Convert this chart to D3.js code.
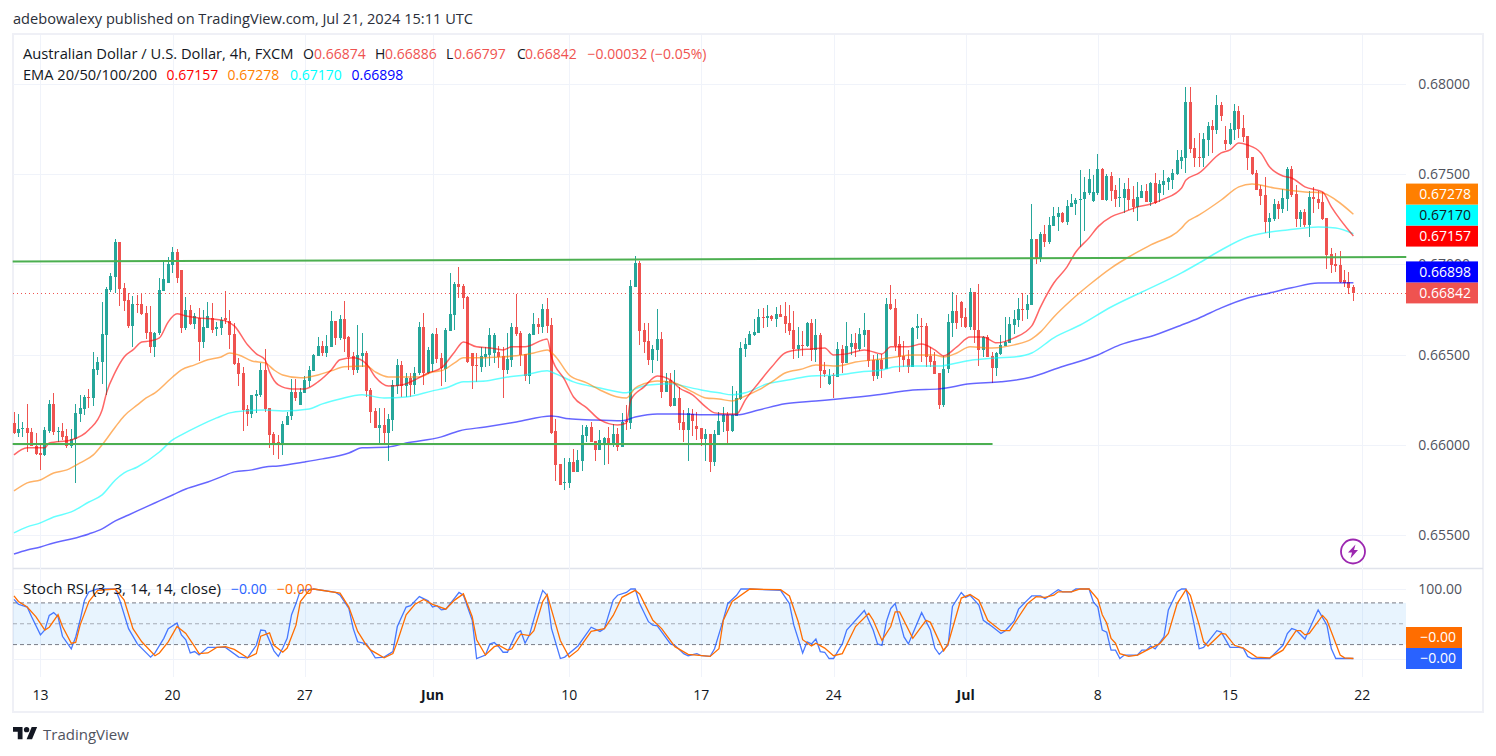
<!DOCTYPE html>
<html>
<head>
<meta charset="utf-8">
<script src="https://cdn.jsdelivr.net/npm/d3@7"></script>
<style>
  html, body { margin: 0; padding: 0; background: #fff; overflow: hidden; }
  text { font-family: "Open Sans", sans-serif; }
</style>
</head>
<body>
<svg id="chart" width="1496" height="756"></svg>
<script>
// all prices are in 1e-5 units (66842 = 0.66842), one entry per 4h bar
var opens = [66121,66066,66088,66094,66072,65994,65955,65944,66077,66227,
66072,66077,66049,65994,66033,66171,66199,66266,66260,66415,
66459,66609,66859,66930,67125,66870,66803,66659,66781,66781,
66731,66626,66543,66620,66853,66897,66997,67069,66969,66648,
66748,66670,66703,66570,66648,66703,66642,66648,66703,66687,
66615,66454,66398,66199,66171,66271,66277,66415,66205,66060,
66016,66005,66110,66160,66293,66221,66288,66354,66410,66493,
66548,66509,66543,66687,66592,66698,66598,66493,66415,66493,
66509,66304,66188,66094,66110,66066,66138,66326,66443,66326,
66371,66332,66398,66653,66398,66448,66615,66482,66421,66631,
66720,66892,66881,66820,66509,66443,66432,66487,66498,66509,
66515,66493,66415,66471,66653,66620,66504,66382,66609,66670,
66653,66753,66665,66077,65894,65789,65789,65905,65850,65911,
66049,66099,66022,65972,65999,66038,66005,66060,65988,66133,
66121,66875,67008,66637,66576,66471,66526,66587,66293,66360,
66216,66260,66127,66083,66171,66105,66094,66033,66060,65905,
66055,66127,66166,66077,66160,66254,66532,66554,66609,66620,
66709,66703,66714,66698,66726,66714,66676,66637,66531,66554,
66548,66676,66526,66609,66415,66338,66387,66376,66531,66454,
66543,66565,66531,66609,66637,66471,66382,66471,66421,66781,
66759,66559,66493,66476,66432,66648,66659,66659,66493,66465,
66398,66221,66421,66676,66742,66792,66709,66653,66847,66637,
66526,66598,66493,66426,66504,66548,66565,66665,66692,66753,
66748,66775,67141,67030,67169,67125,67213,67263,67285,67235,
67319,67335,67360,67363,67396,67352,67396,67529,67357,67490,
67413,67368,67368,67418,67363,67319,67368,67407,67346,67452,
67396,67441,67457,67468,67501,67574,67590,67901,67646,67596,
67590,67690,67768,67745,67884,67690,67668,67745,67851,67757,
67712,67596,67507,67418,67385,67235,67252,67335,67308,67363,
67529,67391,67252,67291,67219,67374,67363,67346,67258,67058,
67003,66997,66914,66903,66874];
var highs = [66182,66171,66127,66227,66094,66066,66011,66100,66249,66288,
66100,66121,66088,66088,66227,66277,66277,66310,66515,66487,
66792,66875,66953,67141,67125,66897,66842,66825,66831,66836,
66770,66770,66626,66925,67014,67041,67097,67086,66969,66820,
66775,66731,66759,66748,66792,66786,66681,66709,66853,66748,
66676,66482,66432,66221,66277,66304,66454,66531,66205,66072,
66055,66133,66182,66365,66365,66315,66382,66437,66504,66598,
66576,66609,66742,66687,66720,66798,66604,66515,66664,66620,
66520,66315,66205,66205,66205,66171,66360,66476,66465,66398,
66398,66432,66681,66731,66543,66620,66648,66509,66648,66953,
66903,66986,66892,66825,66509,66509,66543,66543,66648,66620,
66548,66543,66620,66676,66836,66631,66504,66620,66731,66703,
66781,66814,66703,66144,65894,65927,65927,65977,65972,66110,
66110,66127,66022,66083,66044,66099,66116,66094,66177,66221,
66914,67047,67019,66676,66676,66554,66753,66626,66398,66398,
66415,66321,66193,66205,66199,66182,66094,66088,66060,66083,
66182,66210,66182,66326,66299,66570,66593,66631,66698,66753,
66759,66775,66720,66764,66775,66792,66775,66742,66653,66631,
66681,66698,66698,66620,66460,66421,66398,66570,66554,66681,
66615,66620,66648,66731,66637,66498,66504,66504,66814,66886,
66809,66604,66576,66526,66653,66726,66703,66676,66543,66515,
66398,66493,66726,66847,66831,66798,66759,66869,66847,66892,
66604,66609,66515,66515,66609,66709,66709,66748,66814,66842,
66831,67335,67141,67180,67219,67263,67319,67319,67291,67357,
67391,67368,67524,67485,67529,67496,67612,67535,67501,67513,
67441,67479,67452,67479,67435,67457,67441,67446,67457,67507,
67468,67524,67485,67529,67635,67635,67984,67984,67701,67729,
67729,67790,67801,67939,67901,67768,67784,67889,67878,67829,
67712,67596,67524,67441,67485,67285,67363,67352,67418,67540,
67546,67441,67302,67308,67407,67430,67407,67402,67258,67091,
67064,67075,66969,66958,66886];
var lows = [66060,66044,66044,65960,65994,65944,65861,65939,66066,66055,
66016,66027,65983,65983,65789,66127,66166,66205,66216,66387,
66337,66277,66847,66842,66770,66742,66648,66543,66731,66720,
66587,66509,66487,66609,66853,66897,66953,66897,66620,66637,
66665,66642,66465,66537,66648,66620,66604,66609,66670,66531,
66443,66326,66077,66105,66149,66177,66266,66182,65983,65944,
65922,65944,66110,66138,66243,66221,66288,66321,66410,66493,
66493,66487,66543,66554,66581,66515,66415,66387,66398,66432,
66266,66121,66094,66005,66005,65911,66077,66282,66266,66266,
66266,66282,66387,66332,66393,66404,66454,66326,66349,66631,
66637,66814,66753,66454,66310,66349,66404,66432,66437,66454,
66426,66260,66393,66432,66604,66437,66354,66338,66609,66615,
66620,66620,66060,65800,65778,65750,65761,65850,65850,65855,
66016,66016,65911,65972,65888,65894,65988,65966,65988,66083,
66088,66875,66554,66509,66443,66398,66465,66260,66293,66210,
66216,66083,66016,65911,66049,66027,65994,65911,65850,65883,
66055,66072,66005,66072,66160,66249,66487,66554,66604,66620,
66648,66653,66687,66653,66709,66620,66609,66476,66482,66493,
66543,66465,66460,66315,66376,66332,66260,66376,66398,66454,
66498,66487,66520,66543,66432,66354,66365,66371,66421,66748,
66520,66404,66432,66398,66432,66587,66460,66432,66432,66393,
66199,66210,66398,66598,66642,66653,66648,66637,66565,66437,
66487,66487,66343,66382,66498,66548,66565,66615,66653,66687,
66698,66775,67003,67014,67097,67114,67213,67186,67230,67219,
67319,67274,67097,67186,67385,67346,67385,67357,67352,67352,
67319,67319,67285,67302,67291,67241,67368,67346,67324,67335,
67346,67385,67413,67418,67495,67529,67507,67618,67540,67540,
67540,67601,67618,67723,67795,67635,67662,67690,67701,67679,
67524,67496,67413,67330,67175,67147,67241,67252,67285,67296,
67374,67208,67208,67208,67153,67285,67308,67247,66975,66953,
66958,66897,66875,66836,66797];
var closes = [66066,66088,66094,66066,65994,65950,65944,66083,66227,66072,
66077,66044,65994,66033,66177,66205,66266,66260,66421,66459,
66615,66864,66936,67125,66864,66798,66659,66781,66775,66726,
66620,66543,66620,66859,66919,67003,67069,66925,66648,66748,
66670,66714,66570,66653,66714,66637,66653,66692,66692,66609,
66448,66393,66193,66171,66277,66282,66415,66199,66055,66005,
66005,66116,66160,66293,66260,66293,66360,66415,66498,66548,
66509,66548,66687,66592,66698,66587,66487,66415,66498,66509,
66299,66182,66094,66110,66066,66143,66332,66443,66326,66371,
66332,66398,66653,66398,66526,66615,66476,66426,66637,66726,
66892,66875,66814,66459,66437,66437,66493,66504,66609,66609,
66487,66415,66476,66653,66615,66498,66382,66615,66670,66653,
66753,66659,66066,65888,65778,65794,65905,65850,65916,66055,
66099,66016,65972,66027,66038,66005,66060,65988,66127,66127,
66881,67008,66631,66570,66471,66532,66587,66293,66354,66216,
66260,66121,66083,66177,66133,66088,66033,66060,65905,66060,
66133,66166,66077,66166,66260,66537,66559,66615,66626,66709,
66703,66714,66698,66726,66709,66670,66631,66531,66554,66548,
66676,66526,66609,66410,66393,66382,66382,66531,66454,66548,
66565,66531,66615,66637,66465,66382,66471,66421,66781,66753,
66548,66487,66471,66432,66648,66659,66653,66487,66460,66393,
66221,66421,66681,66742,66676,66703,66653,66847,66637,66526,
66598,66487,66426,66509,66554,66570,66670,66698,66753,66748,
66781,67141,67030,67169,67125,67219,67269,67285,67235,67324,
67341,67357,67363,67402,67474,67402,67529,67357,67490,67407,
67363,67374,67418,67357,67319,67374,67407,67346,67452,67341,
67446,67463,67479,67507,67579,67596,67901,67640,67590,67590,
67696,67768,67745,67884,67823,67668,67751,67851,67751,67707,
67590,67501,67413,67380,67235,67258,67335,67308,67368,67529,
67385,67252,67291,67219,67374,67363,67341,67252,67052,66997,
66991,66903,66897,66870,66842];

// moving averages at the listed bars
var ema20Bars = [0,3,7,8,13,17,20,21,23,25,27,29,31,33,35,37,39,42,45,48,50,53,55,57,58,60,63,66,69,72,74,77,80,82,85,88,91,94,97,100,102,105,108,111,113,116,120,121,122,125,127,130,133,137,139,140,143,146,149,151,154,157,159,162,164,166,169,172,175,178,181,184,186,189,193,197,199,203,206,209,211,214,217,220,223,227,231,233,236,239,241,244,246,249,252,255,258,261,265,266,269,274,276,278,280,283,285,288,290,293,297,299,304];
var ema20Vals = [65944,65983,65983,66010,66027,66083,66193,66288,66404,66487,66526,66570,66576,66593,66681,66726,66714,66703,66698,66687,66659,66554,66504,66471,66404,66332,66310,66310,66349,66415,66471,66482,66448,66376,66326,66332,66360,66398,66426,66515,66570,66543,66537,66526,66543,66543,66581,66587,66487,66360,66265,66205,66138,66110,66121,66249,66321,66382,66360,66315,66277,66210,66177,66171,66171,66249,66343,66432,66509,66526,66531,66537,66498,66504,66526,66504,66543,66543,66559,66526,66493,66543,66598,66598,66565,66593,66659,66765,66897,66986,67069,67147,67208,67263,67291,67319,67335,67363,67424,67468,67507,67618,67635,67673,67662,67618,67540,67490,67479,67430,67402,67319,67157];
var ema50Bars = [0,3,6,9,12,15,18,20,23,25,28,30,32,36,38,41,44,47,49,51,54,57,59,61,65,69,72,75,80,82,85,89,92,95,97,100,102,106,110,114,118,121,123,126,130,133,137,139,141,143,146,150,151,154,157,160,163,165,169,172,175,179,182,187,191,197,200,204,209,211,214,217,222,227,231,233,236,240,244,249,253,258,265,266,269,274,278,281,286,293,297,300,304];
var ema50Vals = [65744,65789,65805,65844,65861,65900,65944,66000,66099,66160,66221,66260,66288,66376,66415,66443,66471,66487,66509,66498,66465,66454,66415,66387,66371,66387,66410,66432,66437,66404,66376,66376,66376,66404,66410,66454,66482,66482,66487,66493,66509,66526,66487,66387,66343,66304,66265,66260,66315,66338,66354,66343,66332,66293,66260,66254,66243,66260,66304,66349,66398,66421,66443,66437,66459,66476,66487,66498,66498,66487,66509,66543,66537,66554,66587,66626,66709,66803,66886,66980,67041,67108,67202,67230,67274,67357,67430,67446,67424,67402,67396,67357,67278];
var ema100Bars = [0,3,6,9,13,17,20,23,25,28,33,36,38,42,46,49,52,57,61,67,70,74,79,84,89,95,98,102,107,112,116,121,123,127,133,139,141,144,150,151,156,160,163,166,171,176,181,187,192,197,200,204,210,214,218,223,227,231,236,242,249,256,265,269,274,280,284,289,296,300,304];
var ema100Vals = [65512,65545,65567,65600,65628,65683,65722,65805,65844,65877,65960,66027,66055,66105,66149,66177,66188,66193,66188,66199,66227,66254,66277,66260,66265,66299,66315,66349,66354,66376,66387,66410,66393,66349,66315,66288,66310,66332,66338,66332,66304,66288,66277,66288,66338,66360,66382,66387,66404,66415,66432,66437,66437,66454,66471,66482,66487,66509,66593,66664,66764,66847,66953,67008,67080,67152,67175,67191,67208,67202,67170];
var ema200Bars = [0,3,6,9,13,17,20,23,26,30,33,36,39,44,47,50,54,57,60,66,70,76,79,85,89,97,101,107,114,122,126,131,138,141,146,151,158,164,169,175,182,187,196,204,210,217,224,231,237,246,251,259,265,269,274,280,285,290,296,304];
var ema200Vals = [65395,65417,65434,65456,65478,65506,65534,65578,65611,65656,65689,65722,65755,65794,65822,65850,65861,65877,65883,65905,65922,65955,65983,65988,66010,66044,66077,66099,66127,66160,66144,66138,66133,66154,66171,66171,66166,66166,66193,66227,66243,66254,66277,66304,66310,66338,66349,66376,66426,66498,66554,66609,66664,66703,66759,66814,66842,66870,66897,66898];

// stoch rsi
var stochKBars = [0,1,3,4,6,7,8,9,10,11,13,14,15,16,17,19,23,24,26,28,31,32,34,35,37,38,39,40,41,42,44,48,51,53,55,56,57,59,60,61,62,63,64,65,68,73,74,76,77,78,80,82,84,86,87,89,90,92,94,95,96,97,98,100,101,102,104,105,107,108,109,110,111,112,114,115,116,117,119,120,121,122,124,125,128,131,133,134,136,137,139,140,141,142,144,145,146,149,150,152,153,155,156,158,159,161,162,164,165,167,174,176,177,179,180,181,182,183,184,185,186,188,189,193,195,196,197,198,199,200,202,203,206,208,209,210,212,213,215,216,217,219,220,222,224,225,227,228,230,231,233,234,237,238,240,241,244,245,246,247,248,249,250,251,252,255,256,257,258,259,261,262,264,265,266,267,269,270,273,274,276,278,279,280,281,285,288,289,290,291,293,296,298,299,300,304];
var stochKVals = [85,78,74,60,34,41,62,66,60,32,14,31,55,84,96,100,100,84,43,21,2,8,29,43,51,34,27,8,10,5,16,16,2,1,19,41,40,11,3,15,29,63,79,98,100,95,91,72,43,24,21,1,2,10,46,74,76,89,83,74,76,70,71,87,95,91,55,0,5,21,23,17,9,9,36,40,22,34,79,98,91,43,0,2,18,45,39,43,84,91,95,100,100,79,53,48,47,21,19,7,4,7,4,3,14,56,79,91,100,100,98,79,48,8,24,21,28,10,9,0,0,21,41,69,41,21,19,53,72,79,31,21,66,41,15,6,19,75,95,88,91,77,55,46,36,40,54,71,84,90,90,86,99,96,96,100,100,81,74,41,38,12,12,0,5,5,12,12,18,14,31,70,96,100,100,75,14,16,40,38,16,16,15,3,0,0,19,36,43,41,28,70,48,14,0,0];
var stochDBars = [0,1,3,5,7,8,10,11,13,14,15,17,19,23,25,27,29,32,33,35,37,39,41,42,44,46,48,50,53,55,56,58,59,61,62,64,65,67,68,74,76,78,80,81,84,86,87,89,91,93,95,98,100,102,104,105,107,109,110,112,113,115,117,118,120,121,123,124,126,128,131,134,136,138,141,142,145,147,150,153,158,160,161,163,167,174,176,178,179,181,182,184,186,188,191,194,195,197,199,200,201,204,207,208,211,212,215,217,219,221,224,226,227,230,232,234,236,237,240,242,244,246,247,248,249,250,251,253,255,258,260,262,264,266,267,269,270,271,274,275,277,279,282,285,288,291,292,293,294,297,298,301,302,304];
var stochDVals = [90,82,74,60,41,45,63,46,22,23,48,82,98,100,84,43,24,4,8,24,46,36,17,7,8,16,17,13,1,7,32,37,19,9,15,48,82,98,100,94,74,39,19,12,1,7,24,63,78,85,78,71,84,93,60,27,5,17,19,12,14,35,33,40,82,92,48,26,2,12,39,43,62,88,98,93,55,43,17,6,3,14,55,82,100,99,90,53,27,18,22,15,4,7,46,65,55,26,46,67,67,29,55,52,11,21,87,92,84,55,40,40,50,79,89,88,91,96,96,100,100,85,63,51,29,22,7,3,5,15,21,36,79,99,91,48,24,18,36,35,19,15,2,1,12,40,40,34,36,62,55,5,1,0];

// drawn trend lines: [bar, price]
var upperTrendBars = [-0.3, 316];
var upperTrendVals = [67016, 67041];
var lowerTrendBars = [-0.3, 222.1];
var lowerTrendVals = [66005, 66005];

var priceTicks = [0.655, 0.66, 0.665, 0.67, 0.675, 0.68];
var rsiBands = [100, 80, 50, 20, 0];
var timeTickBars = [6, 36, 66, 95, 126, 156, 186, 216, 246, 276, 306];
var timeTickLabels = ["13", "20", "27", "Jun", "10", "17", "24", "Jul", "8", "15", "22"];

var svg = d3.select("#chart");

var x = d3.scaleLinear().domain([0, 304]).range([14, 1353.4]);
var y = d3.scaleLinear().domain([0.655, 0.68]).range([535, 84]);
var yRsi = d3.scaleLinear().domain([0, 100]).range([658.5, 589]);

var paneLeft = 13, paneRight = 1406, upColor = "#26a69a", downColor = "#ef5350";

function label(px, py, str, fill, anchor, size, weight, fitWidth) {
  var t = svg.append("text")
    .attr("x", px).attr("y", py)
    .attr("dy", "0.35em")
    .attr("fill", fill)
    .attr("text-anchor", anchor || "start")
    .attr("font-size", size || 13)
    .attr("font-weight", weight || 400)
    .text(str);
  if (fitWidth) t.attr("textLength", fitWidth).attr("lengthAdjust", "spacingAndGlyphs");
  return t;
}

// frame
svg.append("rect").attr("x", 13).attr("y", 34).attr("width", 1470).attr("height", 678)
  .attr("fill", "#fff").attr("stroke", "#eff0f6").attr("stroke-width", 2);
svg.append("line").attr("x1", 13).attr("x2", 1483).attr("y1", 568.5).attr("y2", 568.5)
  .attr("stroke", "#e0e3eb").attr("stroke-width", 1.5);

// grid
var grid = svg.append("g").attr("stroke", "#f0f3fa").attr("shape-rendering", "crispEdges");
grid.selectAll(".v").data(timeTickBars).join("line")
  .attr("x1", function (d) { return Math.round(x(d)) + 0.5; })
  .attr("x2", function (d) { return Math.round(x(d)) + 0.5; })
  .attr("y1", 35).attr("y2", 677);
grid.selectAll(".h").data(priceTicks).join("line")
  .attr("x1", paneLeft).attr("x2", paneRight)
  .attr("y1", function (d) { return Math.round(y(d)) + 0.5; })
  .attr("y2", function (d) { return Math.round(y(d)) + 0.5; });
grid.selectAll(".r").data([100, 0]).join("line")
  .attr("x1", paneLeft).attr("x2", paneRight)
  .attr("y1", function (d) { return Math.round(yRsi(d)) + 0.5; })
  .attr("y2", function (d) { return Math.round(yRsi(d)) + 0.5; });

// last price line
svg.append("line")
  .attr("x1", paneLeft).attr("x2", paneRight)
  .attr("y1", Math.round(y(closes[304] / 1e5)) + 0.5)
  .attr("y2", Math.round(y(closes[304] / 1e5)) + 0.5)
  .attr("stroke", downColor).attr("stroke-width", 1).attr("stroke-dasharray", "1 3");

// candles
var candles = svg.append("g").attr("shape-rendering", "crispEdges");
var bars = d3.range(opens.length);
candles.selectAll(".wick").data(bars).join("line")
  .attr("x1", function (i) { return Math.floor(x(i)) + 0.5; })
  .attr("x2", function (i) { return Math.floor(x(i)) + 0.5; })
  .attr("y1", function (i) { return y(highs[i] / 1e5); })
  .attr("y2", function (i) { return y(lows[i] / 1e5); })
  .attr("stroke", function (i) { return closes[i] >= opens[i] ? upColor : downColor; });
candles.selectAll(".body").data(bars).join("rect")
  .attr("x", function (i) { return Math.floor(x(i)) - 1; })
  .attr("width", 3)
  .attr("y", function (i) { return y(Math.max(opens[i], closes[i]) / 1e5); })
  .attr("height", function (i) { return Math.max(1, Math.abs(y(opens[i] / 1e5) - y(closes[i] / 1e5))); })
  .attr("fill", function (i) { return closes[i] >= opens[i] ? upColor : downColor; });

// emas
var priceLine = d3.line()
  .x(function (d) { return x(d[0]); })
  .y(function (d) { return y(d[1] / 1e5); })
  .curve(d3.curveMonotoneX);

function emaPath(barsList, vals, color) {
  svg.append("path")
    .datum(d3.zip(barsList, vals))
    .attr("d", priceLine)
    .attr("fill", "none")
    .attr("stroke", color)
    .attr("stroke-opacity", 0.6)
    .attr("stroke-width", 1.5);
}
emaPath(ema200Bars, ema200Vals, "#0000ff");
emaPath(ema100Bars, ema100Vals, "#00ffff");
emaPath(ema50Bars, ema50Vals, "#ff7f00");
emaPath(ema20Bars, ema20Vals, "#ff0000");

// trend lines
function trendPath(barsList, vals) {
  svg.append("path")
    .datum(d3.zip(barsList, vals))
    .attr("d", d3.line()
      .x(function (d) { return x(d[0]); })
      .y(function (d) { return y(d[1] / 1e5); }))
    .attr("fill", "none")
    .attr("stroke", "#4caf50")
    .attr("stroke-width", 2);
}
trendPath(upperTrendBars, upperTrendVals);
trendPath(lowerTrendBars, lowerTrendVals);

// stoch rsi pane
svg.append("rect")
  .attr("x", paneLeft).attr("width", paneRight - paneLeft)
  .attr("y", yRsi(80)).attr("height", yRsi(20) - yRsi(80))
  .attr("fill", "#2196f3").attr("fill-opacity", 0.1);
[80, 50, 20].forEach(function (b) {
  svg.append("line")
    .attr("x1", paneLeft).attr("x2", paneRight)
    .attr("y1", yRsi(b)).attr("y2", yRsi(b))
    .attr("stroke", "#787b86")
    .attr("stroke-opacity", b == 50 ? 0.6 : 1)
    .attr("stroke-dasharray", "4 3");
});
var rsiLine = d3.line()
  .x(function (d) { return x(d[0]); })
  .y(function (d) { return yRsi(d[1]); });
svg.append("path").datum(d3.zip(stochKBars, stochKVals)).attr("d", rsiLine)
  .attr("fill", "none").attr("stroke", "#2962ff").attr("stroke-opacity", 0.85).attr("stroke-width", 1.3);
svg.append("path").datum(d3.zip(stochDBars, stochDVals)).attr("d", rsiLine)
  .attr("fill", "none").attr("stroke", "#ff6d00").attr("stroke-width", 1.3);

// axis labels
var axisColor = "#50535e";
priceTicks.forEach(function (t) {
  label(1470, y(t), t.toFixed(5), axisColor, "end", 14);
});
label(1462, yRsi(100), "100.00", axisColor, "end", 14);
timeTickBars.forEach(function (b, i) {
  var bold = timeTickLabels[i] == "Jun" || timeTickLabels[i] == "Jul";
  label(x(b), 695, timeTickLabels[i], "#131722", "middle", 14, bold ? 700 : 400);
});

// price tags stacked from the bottom so they never overlap
var tagHeight = 21;
var priceTags = [
  { val: 0.66842, bg: "#ef5350", fg: "#fff", txt: "0.66842" },
  { val: 0.66898, bg: "#0000ff", fg: "#fff", txt: "0.66898" },
  { val: 0.67157, bg: "#ff0000", fg: "#fff", txt: "0.67157" },
  { val: 0.6717, bg: "#00ffff", fg: "#131722", txt: "0.67170" },
  { val: 0.67278, bg: "#ff7f00", fg: "#fff", txt: "0.67278" }
];
var nextMax = 1e9;
priceTags.forEach(function (t) {
  var cy = Math.min(y(t.val), nextMax);
  nextMax = cy - tagHeight;
  svg.append("rect").attr("x", 1406).attr("width", 72).attr("y", cy - tagHeight / 2).attr("height", tagHeight).attr("fill", t.bg);
  label(1471, cy, t.txt, t.fg, "end", 14);
});
[{ cy: 637.5, bg: "#ff6d00", txt: "\u22120.00" }, { cy: 658.5, bg: "#2962ff", txt: "\u22120.00" }].forEach(function (t) {
  svg.append("rect").attr("x", 1406).attr("width", 56).attr("y", t.cy - tagHeight / 2).attr("height", tagHeight).attr("fill", t.bg);
  label(1456, t.cy, t.txt, "#fff", "end", 14);
});

// legends
var ink = "#131722";
label(13, 19, "adebowalexy published on TradingView.com, Jul 21, 2024 15:11 UTC", "#2a2e39", "start", 14, 400, 460);
label(23, 54, "Australian Dollar / U.S. Dollar, 4h, FXCM", ink, "start", 14, 400, 270.5);
var legendParts = [
  [303, "O", ink], [314, "0.66874", downColor], [375, "H", ink], [385, "0.66886", downColor],
  [446, "L", ink], [454, "0.66797", downColor], [517, "C", ink], [525, "0.66842", downColor],
  [587.5, "\u22120.00032 (\u22120.05%)", downColor]
];
legendParts.forEach(function (p) { label(p[0], 54, p[1], p[2], "start", 14); });
label(23, 75, "EMA 20/50/100/200", ink, "start", 14, 400, 134);
label(166.6, 75, "0.67157", "#ff0000", "start", 14);
label(227.5, 75, "0.67278", "#ff7f00", "start", 14);
label(290, 75, "0.67170", "#00ffff", "start", 14);
label(351.6, 75, "0.66898", "#0000ff", "start", 14);
label(23, 589, "Stoch RSI (3, 3, 14, 14, close)", ink, "start", 14, 400, 198);
label(231, 589, "\u22120.00", "#2962ff", "start", 14);
label(277, 589, "\u22120.00", "#ff6d00", "start", 14);

// lightning badge
var badge = svg.append("g").attr("transform", "translate(1353,551.5)");
badge.append("circle").attr("r", 12).attr("fill", "#fff").attr("stroke", "#9c27b0").attr("stroke-width", 1.8);
badge.append("polygon").attr("points", "2.5,-7 -5,1 -1,1 -2.5,7 5,-1.5 1,-1.5").attr("fill", "#9c27b0");

// footer logo
var logo = svg.append("g").attr("transform", "translate(13,724.2) scale(0.68)").attr("fill", "#131722");
logo.append("path").attr("d", "M14 22H7V11H0V4h14v18zM28 22h-8l7.5-18h8L28 22z");
logo.append("circle").attr("cx", 20).attr("cy", 8).attr("r", 4);
label(43, 735, "TradingView", "#50535e", "start", 15);
</script>
</body>
</html>
